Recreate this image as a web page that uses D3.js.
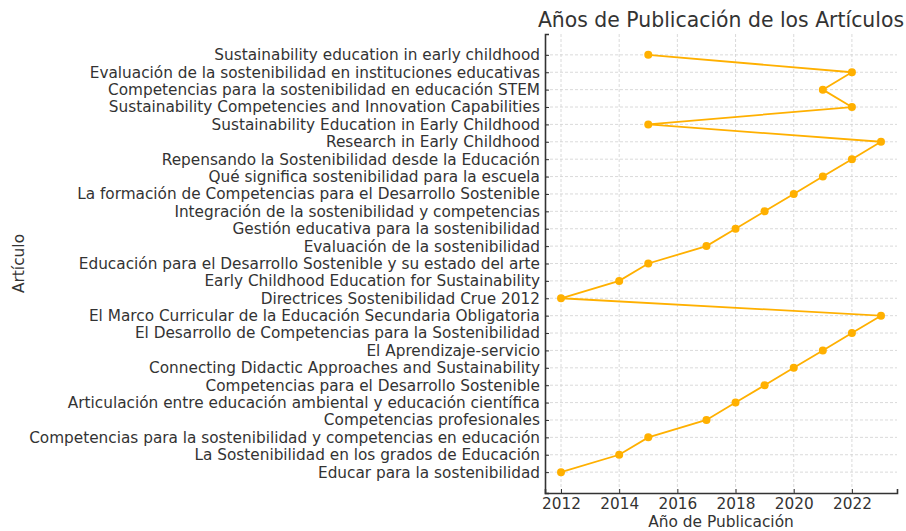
<!DOCTYPE html>
<html>
<head>
<meta charset="utf-8">
<script src="https://cdn.jsdelivr.net/npm/d3@7"></script>
<style>
  body { margin: 0; background: #fff; }
  text { font-family: "DejaVu Sans", sans-serif; fill: #333; }
</style>
</head>
<body>
<div id="chart"></div>
<script>
// Article titles, bottom to top as drawn on the y axis
const articles = [
  "Educar para la sostenibilidad",
  "La Sostenibilidad en los grados de Educación",
  "Competencias para la sostenibilidad y competencias en educación",
  "Competencias profesionales",
  "Articulación entre educación ambiental y educación científica",
  "Competencias para el Desarrollo Sostenible",
  "Connecting Didactic Approaches and Sustainability",
  "El Aprendizaje-servicio",
  "El Desarrollo de Competencias para la Sostenibilidad",
  "El Marco Curricular de la Educación Secundaria Obligatoria",
  "Directrices Sostenibilidad Crue 2012",
  "Early Childhood Education for Sustainability",
  "Educación para el Desarrollo Sostenible y su estado del arte",
  "Evaluación de la sostenibilidad",
  "Gestión educativa para la sostenibilidad",
  "Integración de la sostenibilidad y competencias",
  "La formación de Competencias para el Desarrollo Sostenible",
  "Qué significa sostenibilidad para la escuela",
  "Repensando la Sostenibilidad desde la Educación",
  "Research in Early Childhood",
  "Sustainability Education in Early Childhood",
  "Sustainability Competencies and Innovation Capabilities",
  "Competencias para la sostenibilidad en educación STEM",
  "Evaluación de la sostenibilidad en instituciones educativas",
  "Sustainability education in early childhood"
];

// Publication year of each article (same order)
const years = [
  2012, 2014, 2015, 2017, 2018, 2019, 2020, 2021, 2022, 2023,
  2012, 2014, 2015, 2017, 2018, 2019, 2020, 2021, 2022, 2023,
  2015, 2022, 2021, 2022, 2015
];

const xTicks = [2012, 2014, 2016, 2018, 2020, 2022];

const width = 906;
const height = 531;
const margin = { top: 34, right: 9, bottom: 38, left: 545 };
const innerW = width - margin.left - margin.right;
const innerH = height - margin.top - margin.bottom;

const data = articles.map((a, i) => ({ article: a, year: years[i], idx: i }));

const svg = d3.select("#chart")
  .append("svg")
  .attr("width", width)
  .attr("height", height);

const g = svg.append("g")
  .attr("transform", `translate(${margin.left},${margin.top})`);

// x: years with matplotlib-like 5% padding
const yrMin = d3.min(years), yrMax = d3.max(years);
const xPad = (yrMax - yrMin) * 0.05;
const x = d3.scaleLinear()
  .domain([yrMin - xPad, yrMax + xPad])
  .range([0, innerW]);

// y: category index, also padded
const yPad = (articles.length - 1) * 0.05;
const y = d3.scaleLinear()
  .domain([-yPad, articles.length - 1 + yPad])
  .range([innerH, 0]);

// grid
g.append("g")
  .selectAll("line.vgrid")
  .data(xTicks)
  .enter().append("line")
  .attr("x1", d => x(d)).attr("x2", d => x(d))
  .attr("y1", 0).attr("y2", innerH)
  .attr("stroke", "#d0d0d0")
  .attr("stroke-width", 0.8)
  .attr("stroke-dasharray", "3,2");

g.append("g")
  .selectAll("line.hgrid")
  .data(data)
  .enter().append("line")
  .attr("x1", 0).attr("x2", innerW)
  .attr("y1", d => y(d.idx)).attr("y2", d => y(d.idx))
  .attr("stroke", "#d0d0d0")
  .attr("stroke-width", 0.8)
  .attr("stroke-dasharray", "3,2");

// axes (ticks point inward)
const xAxis = g.append("g")
  .attr("transform", `translate(0,${innerH})`)
  .call(d3.axisBottom(x).tickValues(xTicks).tickFormat(d3.format("d")).tickSize(-4).tickPadding(5));

const yAxis = g.append("g")
  .call(d3.axisLeft(y)
    .tickValues(d3.range(articles.length))
    .tickFormat(i => articles[i])
    .tickSize(-4).tickPadding(5));

[xAxis, yAxis].forEach(ax => {
  ax.selectAll("text")
    .style("font-family", "DejaVu Sans, sans-serif")
    .style("font-size", "15.3px")
    .attr("fill", "#333");
  ax.selectAll(".tick line").attr("stroke", "#333");
  ax.select(".domain").attr("stroke", "#333").attr("stroke-width", 1.6);
});

// line + markers
const line = d3.line()
  .x(d => x(d.year))
  .y(d => y(d.idx));

g.append("path")
  .datum(data)
  .attr("d", line)
  .attr("fill", "none")
  .attr("stroke", "#ffb000")
  .attr("stroke-width", 1.8);

g.selectAll("circle")
  .data(data)
  .enter().append("circle")
  .attr("cx", d => x(d.year))
  .attr("cy", d => y(d.idx))
  .attr("r", 4)
  .attr("fill", "#ffb000");

// title and axis labels
svg.append("text")
  .attr("x", margin.left + innerW / 2)
  .attr("y", 27)
  .attr("text-anchor", "middle")
  .style("font-size", "20.4px")
  .text("Años de Publicación de los Artículos");

svg.append("text")
  .attr("x", margin.left + innerW / 2)
  .attr("y", 527)
  .attr("text-anchor", "middle")
  .style("font-size", "15.4px")
  .text("Año de Publicación");

svg.append("text")
  .attr("transform", `translate(24,${margin.top + innerH / 2}) rotate(-90)`)
  .attr("text-anchor", "middle")
  .style("font-size", "15.4px")
  .text("Artículo");
</script>
</body>
</html>
